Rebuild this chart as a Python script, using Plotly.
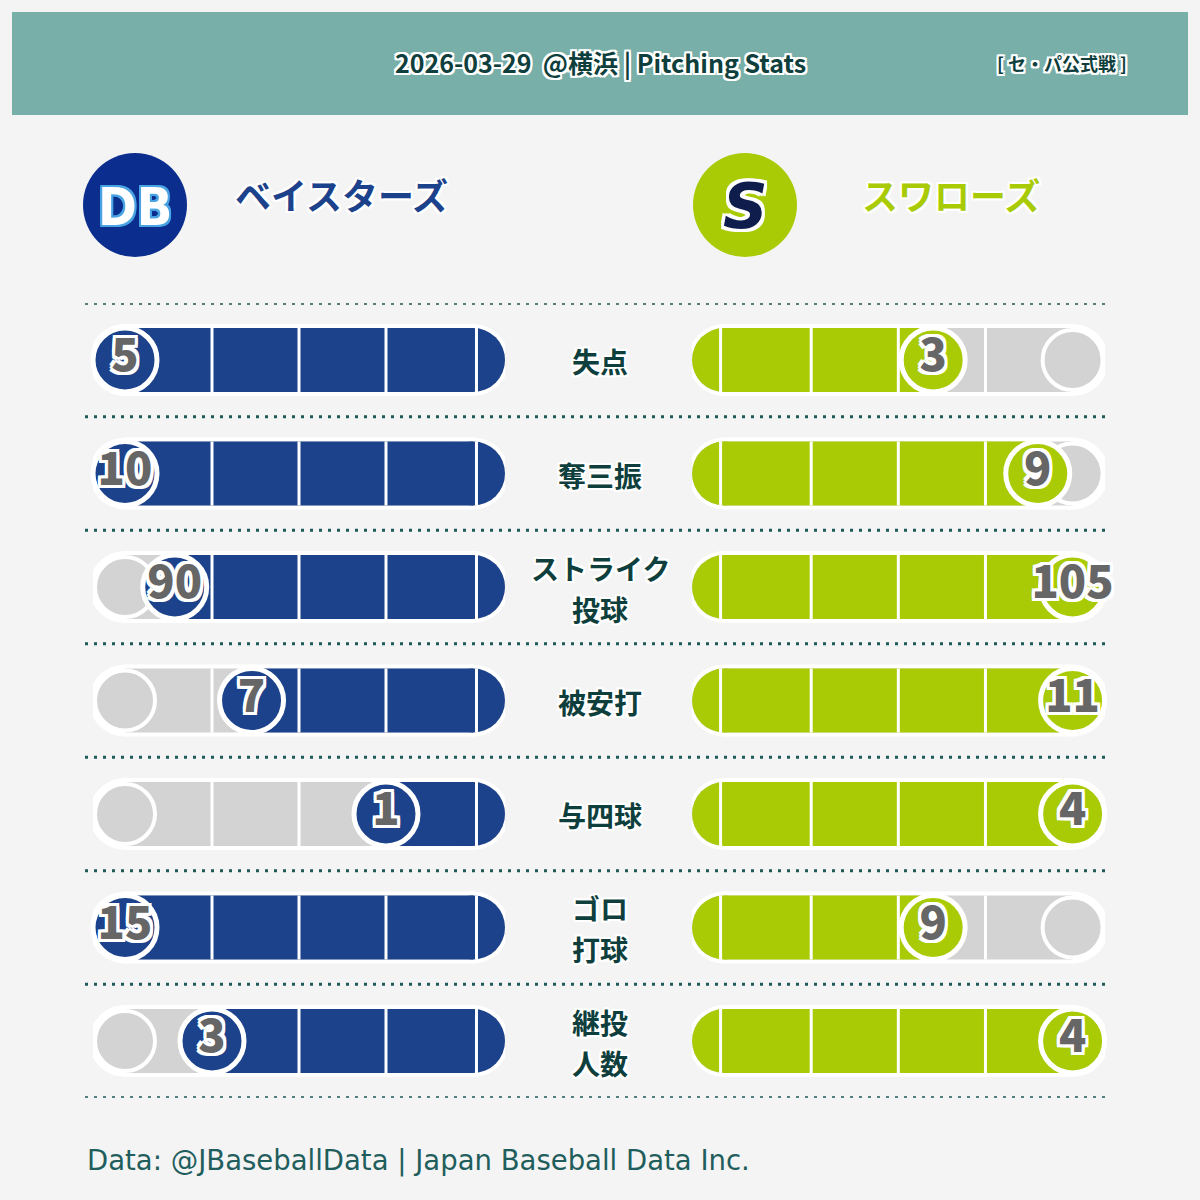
import plotly.graph_objects as go

# ---------------- data ----------------
categories = ["失点", "奪三振", "ストライク<br>投球", "被安打", "与四球", "ゴロ<br>打球", "継投<br>人数"]
db_values = [5, 10, 90, 7, 1, 15, 3]
s_values = [3, 9, 105, 11, 4, 9, 4]
team_names = ["ベイスターズ", "スワローズ"]
team_logos = ["DB", "S"]
title_text = "2026-03-29\u00a0\u00a0@横浜 | Pitching Stats"
league_text = "[ セ・パ公式戦 ]"
footer_text = "Data: @JBaseballData | Japan Baseball Data Inc."

# ---------------- styles ----------------
BG = "#f4f4f4"
HEADER = "#79afa9"
DB_COLOR = "#1c428b"
DB_LOGO = "#0b2e8e"
S_COLOR = "#a9cb06"
S_DARK = "#0e1d4b"
GRAY = "#d3d3d3"
TEAL_DARK = "#0f3f3d"
DOT = "#1e5a57"
NUM = "#666666"
JP = "Noto Sans CJK JP"


def outline(color="white", w=2):
    pts = []
    for dx in (-w, 0, w):
        for dy in (-w, 0, w):
            if dx or dy:
                pts.append(f"{dx}px {dy}px 0 {color}")
    return ", ".join(pts)


rows = list(range(len(categories)))
row_max = [max(a, b) for a, b in zip(db_values, s_values)]
db_frac = [v / m for v, m in zip(db_values, row_max)]
s_frac = [v / m for v, m in zip(s_values, row_max)]

R = 32
shapes = []


def circ(xref, x, row, r, color, lw=0, lc="white"):
    shapes.append(dict(type="circle", xref=xref, yref="y", xsizemode="pixel", ysizemode="pixel",
                       xanchor=x, yanchor=row, x0=-r, x1=r, y0=-r, y1=r,
                       fillcolor=color, line=dict(width=lw, color=lc), layer="below"))


def rect(xref, a, b, row, r, color):
    shapes.append(dict(type="rect", xref=xref, yref="y", ysizemode="pixel", yanchor=row,
                       x0=a, x1=b, y0=-r, y1=r, fillcolor=color, line=dict(width=0), layer="below"))


def pill(xref, a, b, row, r, color):
    rect(xref, a, b, row, r, color)
    circ(xref, a, row, r, color)
    circ(xref, b, row, r, color)


sep_fracs = [-0.01, 0.25, 0.5, 0.75]

for xref, fracs, color in (("x", db_frac, DB_COLOR), ("x2", s_frac, S_COLOR)):
    for row, f in zip(rows, fracs):
        pill(xref, 0, 1, row, R + 4, "white")
        rect(xref, 0, 1, row, R, GRAY)
        circ(xref, 0, row, R, GRAY)
        circ(xref, 1, row, R - 2, GRAY, lw=4)
        rect(xref, 0, f, row, R, color)
        circ(xref, 0, row, R, color)
        for s in sep_fracs:
            shapes.append(dict(type="line", xref=xref, yref="y", ysizemode="pixel", yanchor=row,
                               x0=s, x1=s, y0=-R, y1=R, line=dict(color="white", width=3),
                               layer="below"))

# dotted separators
for k in range(len(categories) + 1):
    shapes.append(dict(type="line", xref="paper", yref="y", x0=85 / 1200, x1=1110 / 1200,
                       y0=k - 0.5, y1=k - 0.5, line=dict(color=DOT, width=3, dash="3px,6px")))

# header band
shapes.append(dict(type="rect", xref="paper", yref="paper", x0=12 / 1200, x1=1188 / 1200,
                   y0=1 - 115 / 1200, y1=1 - 12 / 1200, fillcolor=HEADER, line=dict(width=0),
                   layer="below"))
# logos
for cx, col in ((135, DB_LOGO), (745, S_COLOR)):
    shapes.append(dict(type="circle", xref="paper", yref="paper", x0=(cx - 52) / 1200,
                       x1=(cx + 52) / 1200, y0=1 - 257 / 1200, y1=1 - 153 / 1200,
                       fillcolor=col, line=dict(width=0), layer="below"))

fig = go.Figure()

num_font = dict(family=JP, size=45, color=NUM, weight=900, shadow=outline("white", 3))

for xref, fracs, vals, color in (("x", db_frac, db_values, DB_COLOR), ("x2", s_frac, s_values, S_COLOR)):
    fig.add_trace(go.Scatter(x=fracs, y=rows, xaxis=xref, yaxis="y", mode="markers",
                             marker=dict(size=64, color=color, line=dict(color="white", width=5)),
                             hoverinfo="skip", showlegend=False, cliponaxis=False))
    fig.add_trace(go.Scatter(x=fracs, y=rows, xaxis=xref, yaxis="y", mode="text",
                             text=[str(v) for v in vals], textposition="middle center",
                             textfont=num_font, hoverinfo="skip", showlegend=False,
                             cliponaxis=False))

annotations = []
cat_font = dict(family=JP, size=28, color=TEAL_DARK, weight="bold", shadow=outline("white", 2))
for row, cat in zip(rows, categories):
    lines = cat.split("<br>")
    n = len(lines)
    for i, line in enumerate(lines):
        shift = (i - (n - 1) / 2) * 41
        annotations.append(dict(x=0.5, xref="paper", y=row, yref="y", text=line, showarrow=False,
                                font=cat_font, xanchor="center", yanchor="middle",
                                yshift=-shift - 1, borderpad=0))

annotations += [
    dict(x=600 / 1200, y=1 - 62 / 1200, xref="paper", yref="paper", text=title_text, showarrow=False,
         font=dict(family=JP, size=25, color=TEAL_DARK, weight="bold", shadow=outline("white", 2)),
         xanchor="center", yanchor="middle"),
    dict(x=1062 / 1200, y=1 - 63 / 1200, xref="paper", yref="paper", text=league_text, showarrow=False,
         font=dict(family=JP, size=18, color=TEAL_DARK, weight="bold", shadow=outline("white", 2)),
         xanchor="center", yanchor="middle"),
    dict(x=341 / 1200, y=1 - 194 / 1200, xref="paper", yref="paper", text=team_names[0], showarrow=False,
         font=dict(family=JP, size=36, color=DB_COLOR, weight="bold", shadow=outline("white", 2)),
         xanchor="center", yanchor="middle"),
    dict(x=951 / 1200, y=1 - 194 / 1200, xref="paper", yref="paper", text=team_names[1], showarrow=False,
         font=dict(family=JP, size=36, color=S_COLOR, weight="bold", shadow=outline("white", 2)),
         xanchor="center", yanchor="middle"),
    dict(x=135 / 1200, y=1 - 207 / 1200, xref="paper", yref="paper", text=team_logos[0], showarrow=False,
         font=dict(family="DejaVu Sans Condensed", size=52, color="white", weight="bold",
                   shadow=outline("#4aa3e2", 2)),
         xanchor="center", yanchor="middle"),
    dict(x=745 / 1200, y=1 - 207 / 1200, xref="paper", yref="paper", text=team_logos[1], showarrow=False,
         font=dict(family="DejaVu Sans", size=62, color=S_DARK, weight="bold", style="italic",
                   shadow=outline("white", 3)),
         xanchor="center", yanchor="middle"),
    dict(x=85 / 1200, y=1 - 1160 / 1200, xref="paper", yref="paper", text=footer_text, showarrow=False,
         font=dict(family="DejaVu Sans", size=27.5, color="#1f5e5c"),
         xanchor="left", yanchor="middle"),
]

ax_common = dict(showgrid=False, zeroline=False, showticklabels=False, showline=False,
                 fixedrange=True, ticks="")
fig.update_layout(
    width=1200, height=1200, margin=dict(l=0, r=0, t=0, b=0),
    paper_bgcolor=BG, plot_bgcolor="rgba(0,0,0,0)",
    xaxis=dict(domain=[93 / 1200, 505 / 1200], range=[1.092, -0.092], anchor="y", **ax_common),
    xaxis2=dict(domain=[692 / 1200, 1105 / 1200], range=[-0.092, 1.093], anchor="y", **ax_common),
    yaxis=dict(domain=[1 - 1097.75 / 1200, 1 - 303.25 / 1200], range=[6.5, -0.5], **ax_common),
    shapes=shapes, annotations=annotations, showlegend=False,
)

fig.write_html("out.html", config={"displayModeBar": False},
               post_script="document.body.style.margin='0';document.body.style.background='#f4f4f4';")
